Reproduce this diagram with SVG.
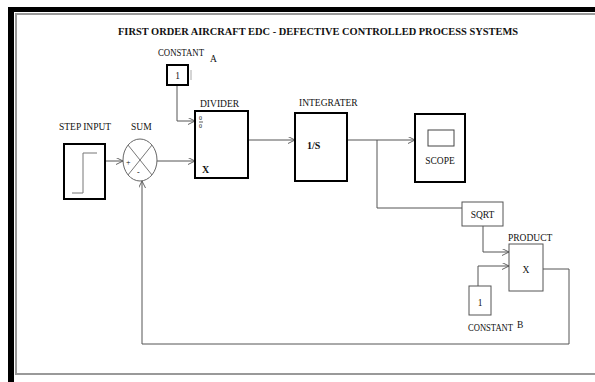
<svg xmlns="http://www.w3.org/2000/svg" width="595" height="382" viewBox="0 0 595 382">
<defs>
<marker id="chev" viewBox="0 0 10 10" refX="10" refY="5" markerWidth="7" markerHeight="7" markerUnits="userSpaceOnUse" orient="auto">
<path d="M0,0 L10,5 L0,10" fill="none" stroke="#555" stroke-width="1.3"/>
</marker>
<style>
text{font-family:"Liberation Serif","Times New Roman",serif;fill:#111}
.lbl{font-size:9.5px}
.ttl{font-size:10.5px;font-weight:bold}
.bk{fill:#fff;stroke:#000;stroke-width:2}
.tn{fill:#fff;stroke:#555;stroke-width:1}
.ln{fill:none;stroke:#555;stroke-width:1}
.ar{fill:none;stroke:#555;stroke-width:1;marker-end:url(#chev)}
.g{fill:none;stroke:#777;stroke-width:1}
</style>
</defs>
<rect x="0" y="0" width="595" height="382" fill="#fff"/>
<g id="frame">
<rect x="8" y="7" width="587" height="5" fill="#000"/>
<rect x="8" y="7" width="6" height="375" fill="#000"/>
<path d="M16,375 V14 H596" fill="none" stroke="#999" stroke-width="2"/>
<path d="M16,374 H596" fill="none" stroke="#999" stroke-width="2"/>
</g>
<text class="ttl" x="318" y="35" text-anchor="middle" textLength="400" lengthAdjust="spacingAndGlyphs">FIRST ORDER AIRCRAFT EDC - DEFECTIVE CONTROLLED PROCESS SYSTEMS</text>
<g id="connectors">
<path class="ar" d="M177,85 V121 H195"/>
<path class="ar" d="M105,161 H123"/>
<path class="ar" d="M157,161 H195"/>
<path class="ar" d="M248,140 H295"/>
<path class="ar" d="M347,140 H415"/>
<path class="ln" d="M377,140 V208 H462"/>
<path class="ar" d="M483,226 V252 H509"/>
<path class="ar" d="M478,286 V266 H509"/>
<path class="ar" d="M543,269 H569 V344 H142 V181"/>
</g>
<g id="constantA">
<text class="lbl" x="158" y="56" textLength="46" lengthAdjust="spacingAndGlyphs">CONSTANT</text>
<text class="lbl" x="210" y="62" font-size="11">A</text>
<rect class="bk" x="167" y="65" width="21" height="20"/>
<path d="M191,70 V80" stroke="#aaa" stroke-width="1"/>
<text class="lbl" x="177.5" y="79" text-anchor="middle">1</text>
</g>
<g id="stepInput">
<text class="lbl" x="59" y="130">STEP INPUT</text>
<rect class="bk" x="64" y="144" width="41" height="55"/>
<path class="g" d="M72,193 H83 V153 H97"/>
</g>
<g id="sum">
<text class="lbl" x="131" y="130">SUM</text>
<ellipse cx="140" cy="160" rx="17" ry="21" fill="#fff" stroke="#666" stroke-width="1"/>
<path class="g" d="M128,145 L152,175 M152,145 L128,175"/>
<text x="126" y="165" font-size="8">+</text>
<text x="137" y="175" font-size="8">-</text>
</g>
<g id="divider">
<text class="lbl" x="200" y="107">DIVIDER</text>
<rect class="bk" x="195" y="111" width="53" height="67"/>
<text x="199" y="120" font-size="6">0</text>
<path d="M199,122 H203" stroke="#333" stroke-width="0.8"/>
<text x="199" y="128" font-size="6">0</text>
<text x="202" y="173" font-size="10" font-weight="bold">X</text>
</g>
<g id="integrater">
<text class="lbl" x="299" y="106">INTEGRATER</text>
<rect class="bk" x="295" y="113" width="52" height="68"/>
<text x="307" y="149" font-size="10" font-weight="bold">1/S</text>
</g>
<g id="scope">
<rect class="bk" x="415" y="114" width="50" height="68"/>
<rect x="428" y="130" width="26" height="16" fill="#fff" stroke="#444" stroke-width="1"/>
<text class="lbl" x="440" y="164" text-anchor="middle" font-size="9">SCOPE</text>
</g>
<g id="sqrt">
<rect class="tn" x="462" y="202" width="41" height="24"/>
<text class="lbl" x="482.5" y="218" text-anchor="middle" font-size="9">SQRT</text>
</g>
<g id="product">
<text class="lbl" x="508" y="241">PRODUCT</text>
<rect class="tn" x="509" y="244" width="34" height="47"/>
<text class="lbl" x="526" y="273" text-anchor="middle">X</text>
</g>
<g id="constantB">
<rect class="tn" x="469" y="286" width="22" height="29"/>
<text class="lbl" x="480" y="306" text-anchor="middle">1</text>
<text class="lbl" x="468" y="331" textLength="45" lengthAdjust="spacingAndGlyphs">CONSTANT</text>
<text class="lbl" x="517" y="328" font-size="10.5">B</text>
</g>
</svg>
